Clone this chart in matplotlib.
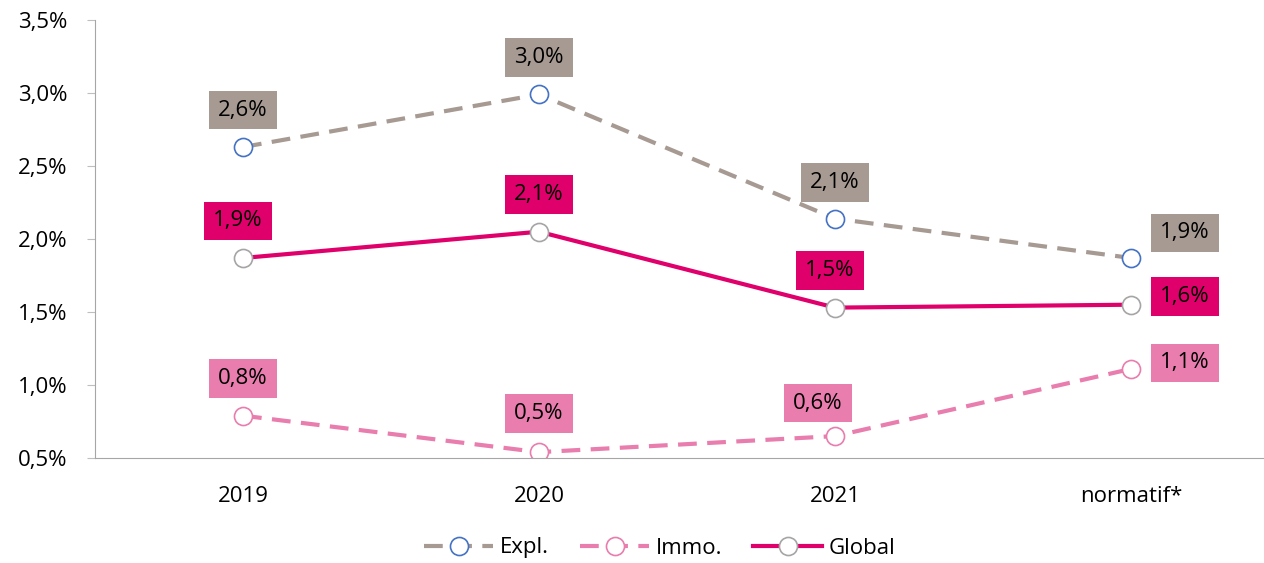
import matplotlib.pyplot as plt
from matplotlib.ticker import FuncFormatter

plt.rcParams['font.family'] = ['Open Sans', 'DejaVu Sans']

# data
categories = ['2019', '2020', '2021', 'normatif*']
expl = [2.63, 2.99, 2.14, 1.87]
immo = [0.79, 0.54, 0.65, 1.11]
glob = [1.87, 2.05, 1.53, 1.55]
expl_labels = ['2,6%', '3,0%', '2,1%', '1,9%']
immo_labels = ['0,8%', '0,5%', '0,6%', '1,1%']
glob_labels = ['1,9%', '2,1%', '1,5%', '1,6%']

c_expl = '#A69A92'
c_immo = '#E87DAE'
c_glob = '#E0006B'

fig = plt.figure(figsize=(12.64, 5.63), dpi=100)
ax = fig.add_axes([95 / 1264, 105 / 563, 1184 / 1264, 438 / 563])
x = list(range(len(categories)))

ax.plot(x, expl, color=c_expl, lw=3, dashes=(4.5, 2.5), marker='o', ms=13,
        mfc='white', mec='#4472C4', mew=1.2, label='Expl.')
ax.plot(x, immo, color=c_immo, lw=3, dashes=(4.5, 2.5), marker='o', ms=13,
        mfc='white', mec=c_immo, mew=1.2, label='Immo.')
ax.plot(x, glob, color=c_glob, lw=3, marker='o', ms=13,
        mfc='white', mec='#A5A5A5', mew=1.2, label='Global')

# label offsets in pixels (dx, dy)
expl_off = [(0, 37), (0, 37), (0, 36), (54, 25)]
immo_off = [(0, 37), (0, 39), (-17, 33), (54, 6)]
glob_off = [(-5, 37), (0, 37), (-5, 37), (54, 8)]

def add_labels(vals, labels, offs, color):
    for i, (v, t, o) in enumerate(zip(vals, labels, offs)):
        ax.annotate(t, (i, v), xytext=o, textcoords='offset pixels',
                    ha='center', va='center', fontsize=16, color='black',
                    bbox=dict(boxstyle='square,pad=0.4', fc=color, ec='none'))

add_labels(expl, expl_labels, expl_off, c_expl)
add_labels(immo, immo_labels, immo_off, c_immo)
add_labels(glob, glob_labels, glob_off, c_glob)

ax.set_xlim(-0.5, 3.5)
ax.set_ylim(0.5, 3.5)
ax.set_yticks([0.5, 1.0, 1.5, 2.0, 2.5, 3.0, 3.5])
ax.yaxis.set_major_formatter(FuncFormatter(lambda v, p: f'{v:.1f}%'.replace('.', ',')))
ax.set_xticks(x)
ax.set_xticklabels(categories)
ax.tick_params(axis='y', labelsize=16, length=6, color='#BFBFBF', pad=14)
ax.tick_params(axis='x', labelsize=16, length=0, pad=20)
for s in ['top', 'right']:
    ax.spines[s].set_visible(False)
ax.spines['left'].set_color('#A6A6A6')
ax.spines['bottom'].set_color('#A6A6A6')

fig.legend(loc='center', bbox_to_anchor=(660 / 1264, 1 - 548 / 563), ncol=3,
           frameon=False, fontsize=16, handlelength=3.1, columnspacing=1.4,
           handletextpad=0.3)

fig.savefig('out.png', dpi=100)
